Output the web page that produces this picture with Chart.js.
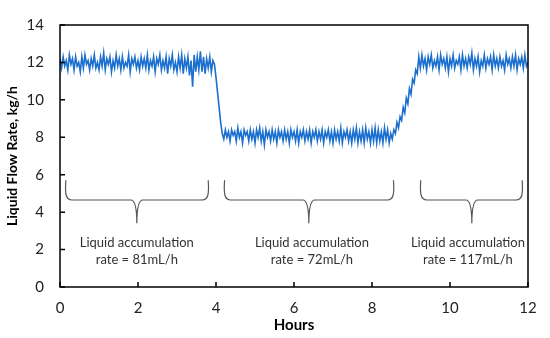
<!DOCTYPE html>
<html>
<head>
<meta charset="utf-8">
<script src="https://cdn.jsdelivr.net/npm/chart.js@4/dist/chart.umd.min.js"></script>
<style>
  body { margin: 0; background: #fff; }
  #wrap { width: 550px; height: 338px; }
</style>
</head>
<body>
<div id="wrap"><canvas id="flowChart"></canvas></div>
<script>
// sampling grid of the logged signal, hours
const startHour = 0;
const stepHour = 0.04;

// liquid flow rate, kg/h (one value per 0.04 h)
const flow = [
  12.2, 11.7, 12.3, 11.8, 12.1, 11.6, 12.4, 11.9, 12.2, 11.6,
  12.3, 11.8, 12.0, 11.5, 12.3, 11.7, 12.4, 11.9, 12.1, 11.6,
  12.2, 11.8, 12.4, 11.7, 12.0, 11.6, 12.3, 11.8, 12.5, 11.6,
  12.2, 11.9, 12.3, 11.5, 12.1, 11.7, 12.4, 11.8, 12.2, 11.6,
  12.3, 11.7, 12.0, 11.8, 12.4, 11.5, 12.2, 11.9, 12.3, 11.7,
  12.1, 11.6, 12.3, 11.8, 12.2, 11.7, 12.4, 11.6, 12.1, 11.8,
  12.3, 11.5, 12.2, 11.9, 12.4, 11.6, 12.1, 11.7, 12.3, 11.4,
  12.2, 11.8, 12.4, 11.6, 12.0, 11.5, 12.3, 11.7, 12.4, 11.4,
  12.2, 11.7, 12.3, 11.3, 12.1, 10.7, 12.4, 11.5, 12.3, 11.6,
  12.6, 11.5, 12.3, 11.4, 12.2, 11.7, 12.3, 11.5, 12.1,
  11.9, 11.2, 10.4, 9.6, 8.8, 8.2,
  7.9, 8.4, 8.0, 8.3, 7.8, 8.4, 8.1, 8.3, 7.8, 8.5,
  8.0, 8.3, 7.7, 8.4, 8.1, 8.3, 7.8, 8.4, 7.9, 8.3,
  7.7, 8.4, 8.0, 8.5, 7.8, 8.3, 7.6, 8.4, 8.0, 8.3,
  7.8, 8.4, 7.9, 8.3, 7.7, 8.4, 8.0, 8.3, 7.8, 8.4,
  7.9, 8.3, 7.7, 8.4, 8.0, 8.3, 7.8, 8.4, 7.7, 8.3,
  8.0, 8.4, 7.8, 8.3, 7.9, 8.4, 7.7, 8.3, 8.0, 8.4,
  7.8, 8.3, 7.9, 8.4, 7.7, 8.3, 8.0, 8.4, 7.8, 8.3,
  7.7, 8.4, 7.9, 8.3, 7.8, 8.5, 7.7, 8.3, 8.0, 8.4,
  7.8, 8.3, 7.7, 8.4, 7.9, 8.5, 7.7, 8.3, 7.8, 8.4,
  7.7, 8.5, 7.9, 8.3, 7.7, 8.4, 7.8, 8.5, 7.7, 8.4,
  7.8, 8.3, 7.7, 8.5, 7.9, 8.4, 7.7, 8.2, 7.9,
  8.4, 8.2, 8.8, 8.5, 9.1, 8.9, 9.6, 9.3, 10.1, 9.8, 10.6, 10.3, 11.1, 10.9, 11.6, 11.4, 12.3,
  11.7, 12.4, 11.8, 12.2, 11.6, 12.3, 11.9, 12.4, 11.7, 12.1,
  11.8, 12.3, 11.6, 12.4, 11.9, 12.2, 11.7, 12.3, 11.5, 12.2,
  11.8, 12.4, 11.7, 12.1, 11.9, 12.3, 11.6, 12.4, 11.8, 12.2,
  11.7, 12.3, 11.9, 12.5, 11.6, 12.2, 11.8, 12.3, 11.5, 12.1,
  11.8, 12.4, 11.7, 12.2, 11.9, 12.3, 11.6, 12.4, 11.8, 12.2,
  11.7, 12.3, 11.8, 12.1, 11.6, 12.4, 11.9, 12.2, 11.7, 12.3,
  11.8, 12.4, 11.6, 12.2, 11.9, 12.3, 11.7, 12.4, 11.8, 12.0
];

// annotation text under each period
const periodLine1 = ['Liquid accumulation', 'Liquid accumulation', 'Liquid accumulation'];
const periodLine2 = ['rate = 81mL/h', 'rate = 72mL/h', 'rate = 117mL/h'];

// brace spans (hours)
const braceFrom = [0.15, 4.22, 9.25];
const braceTo = [3.8, 8.55, 11.85];
const braceTip = [1.97, 6.38, 10.56];
const textCenter = [1.97, 6.46, 10.46];

const points = flow.map((v, i) => ({ x: startHour + i * stepHour, y: v }));

const frameAndNotes = {
  id: 'frameAndNotes',
  afterDraw(chart) {
    const { ctx, chartArea: a, scales: { x, y } } = chart;
    ctx.save();
    // plot box
    ctx.strokeStyle = '#000';
    ctx.lineWidth = 1.5;
    ctx.strokeRect(a.left, a.top, a.right - a.left, a.bottom - a.top);
    // inside tick marks
    ctx.beginPath();
    x.ticks.forEach(t => {
      const px = x.getPixelForValue(t.value);
      ctx.moveTo(px, a.bottom); ctx.lineTo(px, a.bottom - 5);
    });
    y.ticks.forEach(t => {
      const py = y.getPixelForValue(t.value);
      ctx.moveTo(a.left, py); ctx.lineTo(a.left + 5, py);
    });
    ctx.stroke();

    // braces
    const yTop = y.getPixelForValue(5.7);
    const yMid = y.getPixelForValue(4.65);
    const yPt = y.getPixelForValue(3.4);
    ctx.strokeStyle = '#555';
    ctx.lineWidth = 1.2;
    for (let i = 0; i < braceFrom.length; i++) {
      const x0 = x.getPixelForValue(braceFrom[i]);
      const x1 = x.getPixelForValue(braceTo[i]);
      const xt = x.getPixelForValue(braceTip[i]);
      ctx.beginPath();
      ctx.moveTo(x0, yTop);
      ctx.bezierCurveTo(x0 - 1, yMid - 6, x0, yMid, x0 + 6, yMid);
      ctx.lineTo(xt - 6, yMid);
      ctx.quadraticCurveTo(xt, yMid, xt, yPt);
      ctx.quadraticCurveTo(xt, yMid, xt + 6, yMid);
      ctx.lineTo(x1 - 6, yMid);
      ctx.bezierCurveTo(x1, yMid, x1 + 1, yMid - 6, x1, yTop);
      ctx.stroke();
    }

    // period labels
    ctx.fillStyle = '#333';
    ctx.font = '13px Lato, "Open Sans", sans-serif';
    ctx.textAlign = 'center';
    ctx.textBaseline = 'middle';
    for (let i = 0; i < textCenter.length; i++) {
      const cx = x.getPixelForValue(textCenter[i]);
      ctx.fillText(periodLine1[i], cx, y.getPixelForValue(2.35));
      ctx.fillText(periodLine2[i], cx, y.getPixelForValue(1.43));
    }
    ctx.restore();
  }
};

const ctx = document.getElementById('flowChart').getContext('2d');
const chart = new Chart(ctx, {
  type: 'line',
  data: {
    datasets: [{
      label: 'Liquid flow rate',
      data: points,
      borderColor: '#1b6fcf',
      borderWidth: 1.6,
      pointRadius: 0,
      tension: 0,
      fill: false
    }]
  },
  options: {
    responsive: true,
    maintainAspectRatio: false,
    animation: false,
    layout: { padding: { left: 0, right: 22, top: 13, bottom: 0 } },
    plugins: { legend: { display: false }, tooltip: { enabled: false } },
    scales: {
      x: {
        type: 'linear',
        min: 0, max: 12,
        afterFit: s => { s.height = 51; },
        border: { display: false },
        grid: { display: false, drawTicks: false },
        ticks: { stepSize: 2, padding: 12, color: '#222', font: { family: 'Lato', size: 15 } },
        title: { display: true, text: 'Hours', color: '#000', padding: { top: 0 },
                 font: { family: 'Lato', size: 15, weight: 'bold' } }
      },
      y: {
        min: 0, max: 14,
        afterFit: s => { s.width = 60; },
        border: { display: false },
        grid: { display: false, drawTicks: false },
        ticks: { stepSize: 2, padding: 16, color: '#222', font: { family: 'Lato', size: 15 } },
        title: { display: true, text: 'Liquid Flow Rate, kg/h', color: '#000', padding: { top: 4, bottom: 0 },
                 font: { family: 'Lato', size: 14, weight: 'bold' } }
      }
    }
  },
  plugins: [frameAndNotes]
});
</script>
</body>
</html>
